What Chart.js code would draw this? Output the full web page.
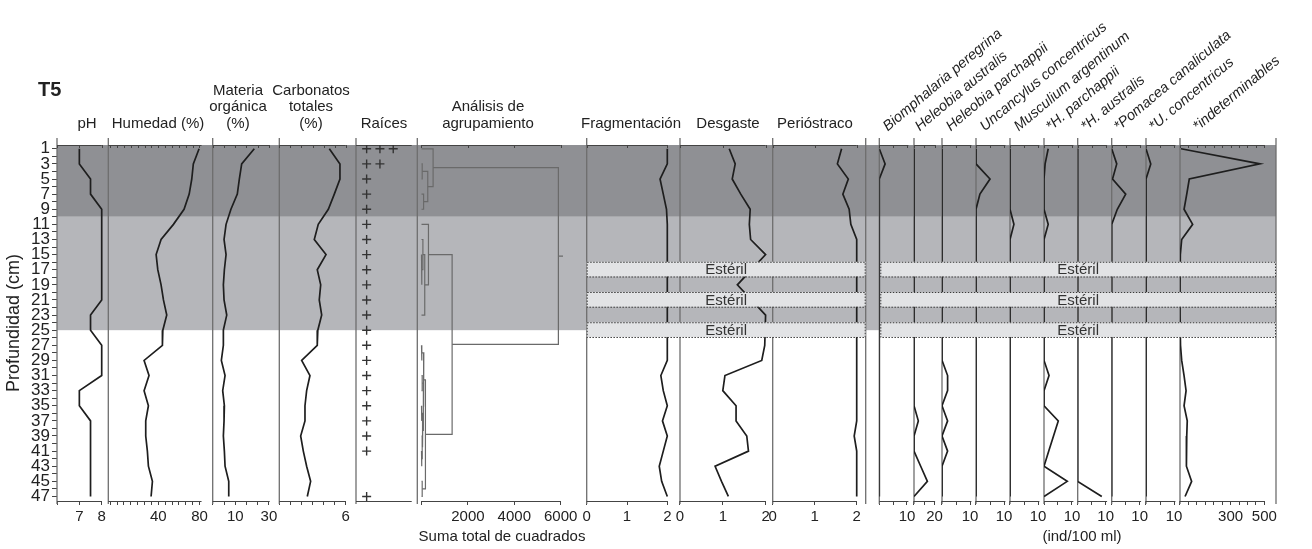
<!DOCTYPE html>
<html>
<head>
<meta charset="utf-8">
<script src="https://cdn.jsdelivr.net/npm/chart.js@4.4.1/dist/chart.umd.min.js"></script>
<style>
  body { margin: 0; background: #fff; font-family: "Liberation Sans", Arial, sans-serif; color: #222; }
  #wrap { position: relative; width: 1312px; height: 549px; overflow: hidden; }
  #chart { position: absolute; left: 0; top: 0; }
  .hd { position: absolute; font-size: 15px; line-height: 16.7px; text-align: center; transform: translateX(-50%); white-space: nowrap; }
  .sp { position: absolute; font-size: 14.5px; line-height: 14px; font-style: italic; transform-origin: 0 100%; transform: rotate(-40deg); white-space: nowrap; }
  #t5 { position: absolute; left: 38px; top: 77px; font-size: 20px; line-height: 24px; font-weight: bold; }
</style>
</head>
<body>
<div id="wrap">
  <canvas id="chart" width="1312" height="549"></canvas>
  <div id="t5">T5</div>
</div>
<script>
// sample depths (cm)
const depths = [1, 3, 5, 7, 9, 11, 13, 15, 17, 19, 21, 23, 25, 27, 29, 31, 33, 35, 37, 39, 41, 43, 45, 47];
const sterileDepths = [17, 21, 25];
const zoneLimits = [10, 25];

// sediment
const ph = [7.0, 7.0, 7.5, 7.5, 8.0, 8.0, 8.0, 8.0, 8.0, 8.0, 8.0, 7.5, 7.5, 8.0, 8.0, 8.0, 7.0, 7.0, 7.5, 7.5, 7.5, 7.5, 7.5, 7.5];
const humedad = [79.6, 74, 72.5, 70, 65, 54.7, 42.7, 37.9, 39.5, 42.7, 45, 48.2, 44.4, 44, 26.2, 31, 26.2, 30.4, 27.8, 27.8, 29.4, 30.4, 34.3, 33];
const materiaOrg = [21.3, 13.8, 12.4, 11.2, 7.4, 4.5, 3.3, 4.5, 3.5, 2.9, 3.3, 4.9, 2.9, 2.9, 1.7, 3.9, 2.5, 3.5, 3.3, 2.9, 3.5, 3.9, 6.1, 6.1];
const carbonatos = [4.52, 5.48, 5.48, 4.97, 4.43, 3.52, 3.16, 4.22, 3.43, 3.74, 3.61, 3.83, 3.48, 3.43, 2.02, 2.77, 2.47, 2.32, 2.32, 1.93, 2.17, 2.47, 2.83, 2.53];
const raices = [3, 2, 1, 1, 1, 1, 1, 1, 1, 1, 1, 1, 1, 1, 1, 1, 1, 1, 1, 1, 1, 0, 0, 1];

// taphonomy (null = estéril)
const fragmentacion = [2.0, 2.0, 1.82, 1.9, 1.98, 2.0, 2.0, 2.0, null, 2.0, null, 2.0, null, 2.0, 2.0, 1.84, 1.9, 2.0, 1.88, 2.0, 1.9, 1.8, 1.86, 2.0];
const desgaste = [1.15, 1.29, 1.22, 1.42, 1.64, 1.62, 1.65, 2.0, null, 1.34, null, 2.0, null, 1.98, 1.91, 1.05, 1.0, 1.31, 1.31, 1.56, 1.6, 0.82, 0.97, 1.13];
const periostraco = [1.64, 1.54, 1.8, 1.67, 1.82, 1.86, 2.0, 2.0, null, 2.0, null, 2.0, null, 2.0, 2.0, 2.0, 2.0, 2.0, 2.0, 1.94, 2.0, 2.0, 2.0, 2.0];

// species (ind/100 ml)
const biomphalaria = [0, 2.1, 0, 0, 0, 0, 0, 0, null, 0, null, 0, null, 0, 0, 0, 0, 0, 0, 0, 0, 0, 0, 0];
const heleobiaAus = [0, 0, 0, 0, 0, 0, 0, 0, null, 0, null, 0, null, 0, 0, 0, 0, 0, 4.2, 0, 0, 6.5, 13, 0];
const heleobiaPar = [0, 0, 0, 0, 0, 0, 0, 0, null, 0, null, 0, null, 0, 0, 2, 2, 0, 2, 0, 2, 0, 0, 0];
const uncancylus = [0, 0, 5, 1.4, 0, 0, 0, 0, null, 0, null, 0, null, 0, 0, 0, 0, 0, 0, 0, 0, 0, 0, 0];
const musculium = [0, 0, 0, 0, 0, 1.4, 0, 0, null, 0, null, 0, null, 0, 0, 0, 0, 0, 0, 0, 0, 0, 0, 0];
const hParchFrag = [1.5, 0.4, 0, 0, 0, 1.5, 0, 0, null, 0, null, 0, null, 0, 0, 1.8, 0, 0, 5.1, 3.4, 1.7, 0, 8.3, 0];
const hAustFrag = [0, 0, 0, 0, 0, 0, 0, 0, null, 0, null, 0, null, 0, 0, 0, 0, 0, 0, 0, 0, 0, 0, 8.6];
const pomacea = [0, 1.8, 0.3, 5, 2, 0, 0, 0, null, 0, null, 0, null, 0, 0, 0, 0, 0, 0, 0, 0, 0, 0, 0];
const uConcFrag = [0, 1.7, 0, 0, 0, 0, 0, 0, null, 0, null, 0, null, 0, 0, 0, 0, 0, 0, 0, 0, 0, 0, 0];
const indeterminables = [6, 474, 55, 40, 24, 75, 10, 2, null, 0, null, 0, null, 3, 10, 24, 36, 24, 43, 40, 40, 36, 69, 30];

// CONISS merges: [left, right, sum of squares]; numbers are depths, 'mN' an earlier merge
const dendroMerges = [
  [3, 5, 30], [7, 9, 90], ['m0', 'm1', 270], [1, 'm2', 500],
  [15, 19, 20], [13, 'm4', 60], ['m5', 23, 140], [11, 'm6', 300],
  [27, 29, 20], [31, 33, 30], [35, 37, 15], [41, 43, 15], [39, 'm11', 30],
  ['m10', 'm12', 60], ['m9', 'm13', 80], ['m8', 'm14', 100], [45, 47, 30],
  ['m15', 'm16', 170], ['m7', 'm17', 1320], ['m3', 'm18', 5900]
];
const rootStub = 200;

// panel layout: slot width (px) and scale range
const third = k => 10 + k * 20 / 3;
const panels = [
  { id: 'ph', w: 51.3, min: 6, max: 8.295, ticks: [6, 7, 8], labels: [7, 8], axis: [6, 8] },
  { id: 'hum', w: 104.4, min: -8.54, max: 92.82, ticks: [-1,0,1,2,3,4,5,6,7,8,9,10,11,12].map(k => k * 20 / 3), labels: [40, 80], axis: [-8.54, 82] },
  { id: 'mo', w: 66.6, min: -3.45, max: 36.19, ticks: [-2,-1,0,1,2,3].map(third), labels: [10, 30], axis: [-3.45, 30.5] },
  { id: 'carb', w: 76.7, min: 0, max: 6.93, ticks: [0,1,2,3,4,5,6], labels: [6], axis: [0, 6] },
  { id: 'rai', w: 61.3, min: 0.2, max: 4.81, ticks: [], labels: [], axis: [0.2, 4.39] },
  { id: 'den', w: 169.4, min: -181, max: 7121, ticks: [0, 2000, 4000, 6000], labels: [2000, 4000, 6000], axis: [0, 6000], title: 'Suma total de cuadrados' },
  { id: 'fra', w: 93.3, min: 0, max: 2.315, ticks: [0, 1, 2], labels: [0, 1, 2], axis: [0, 2] },
  { id: 'des', w: 92.7, min: 0, max: 2.166, ticks: [0, 1, 2], labels: [0, 1, 2], axis: [0, 2] },
  { id: 'per', w: 93, min: 0, max: 2.214, ticks: [0, 1, 2], labels: [0, 1, 2], axis: [0, 2] },
  { id: 'gap', w: 13.6, min: 0, max: 1, ticks: [], labels: [], axis: null },
  { id: 'bio', w: 34.7, min: 0, max: 12.53, ticks: [0, 5, 10], labels: [10], axis: [0, 10.5] },
  { id: 'hau', w: 28, min: 0, max: 27.18, ticks: [0, 10, 20], labels: [20], axis: [0, 20.5] },
  { id: 'hpa', w: 34, min: 0, max: 12.14, ticks: [0, 5, 10], labels: [10], axis: [0, 10.5] },
  { id: 'unc', w: 34, min: 0, max: 12.14, ticks: [0, 5, 10], labels: [10], axis: [0, 10.5] },
  { id: 'mus', w: 34, min: 0, max: 12.14, ticks: [0, 5, 10], labels: [10], axis: [0, 10.5] },
  { id: 'shp', w: 33.7, min: 0, max: 12.04, ticks: [0, 5, 10], labels: [10], axis: [0, 10.5] },
  { id: 'sha', w: 34, min: 0, max: 12.14, ticks: [0, 5, 10], labels: [10], axis: [0, 10.5] },
  { id: 'pom', w: 34.3, min: 0, max: 12.25, ticks: [0, 5, 10], labels: [10], axis: [0, 10.5] },
  { id: 'suc', w: 34, min: 0, max: 12.14, ticks: [0, 5, 10], labels: [10], axis: [0, 10.5] },
  { id: 'ind', w: 96, min: 0, max: 569, ticks: [0,50,100,150,200,250,300,350,400,450,500], labels: [300, 500], axis: [0, 500] }
];

const headers = [
  { x: 87, lines: ['pH'] },
  { x: 158, lines: ['Humedad (%)'] },
  { x: 238, lines: ['Materia', 'orgánica', '(%)'] },
  { x: 311, lines: ['Carbonatos', 'totales', '(%)'] },
  { x: 384, lines: ['Raíces'] },
  { x: 488, lines: ['Análisis de', 'agrupamiento'] },
  { x: 631, lines: ['Fragmentación'] },
  { x: 728, lines: ['Desgaste'] },
  { x: 815, lines: ['Perióstraco'] }
];
const speciesNames = [
  ['Biomphalaria peregrina', 889], ['Heleobia australis', 921], ['Heleobia parchappii', 952],
  ['Uncancylus concentricus', 986], ['Musculium argentinum', 1020], ['*H. parchappii', 1052],
  ['*H. australis', 1087], ['*Pomacea canaliculata', 1120], ['*U. concentricus', 1155],
  ['*indeterminables', 1199]
];

const wrap = document.getElementById('wrap');
headers.forEach(h => {
  const d = document.createElement('div');
  d.className = 'hd';
  d.style.left = h.x + 'px';
  d.style.top = (123.3 - 8.35 - (h.lines.length - 1) * 16.7) + 'px';
  d.innerHTML = h.lines.join('<br>');
  wrap.appendChild(d);
});
speciesNames.forEach(([name, x]) => {
  const d = document.createElement('div');
  d.className = 'sp';
  d.style.left = x + 'px';
  d.style.top = (133 - 14) + 'px';
  d.textContent = name;
  wrap.appendChild(d);
});
const unit = document.createElement('div');
unit.className = 'hd';
unit.style.left = '1082px';
unit.style.top = '528px';
unit.textContent = '(ind/100 ml)';
wrap.appendChild(unit);

// datasets
const lineStyle = { showLine: true, borderColor: '#1e1e1e', borderWidth: 1.7, pointRadius: 0, tension: 0 };
function series(vals, axis) {
  const data = depths.map((d, i) => vals[i] === null ? null : { x: vals[i], y: d }).filter(Boolean);
  return Object.assign({ data, xAxisID: axis }, lineStyle);
}
const datasets = [
  series(ph, 'ph'), series(humedad, 'hum'), series(materiaOrg, 'mo'), series(carbonatos, 'carb'),
  series(fragmentacion, 'fra'), series(desgaste, 'des'), series(periostraco, 'per'),
  series(biomphalaria, 'bio'), series(heleobiaAus, 'hau'), series(heleobiaPar, 'hpa'),
  series(uncancylus, 'unc'), series(musculium, 'mus'), series(hParchFrag, 'shp'),
  series(hAustFrag, 'sha'), series(pomacea, 'pom'), series(uConcFrag, 'suc'),
  series(indeterminables, 'ind')
];

// roots as crosses
const rootPts = [];
depths.forEach((d, i) => { for (let k = 1; k <= raices[i]; k++) rootPts.push({ x: k, y: d }); });
datasets.push({ data: rootPts, xAxisID: 'rai', showLine: false, pointStyle: 'cross', pointRadius: 4.5,
  borderColor: '#333', borderWidth: 1.4 });

// dendrogram links
const nodes = [];
const nodeOf = ref => typeof ref === 'number' ? { h: 0, y: ref } : nodes[+ref.slice(1)];
dendroMerges.forEach(([l, r, h]) => {
  const a = nodeOf(l), b = nodeOf(r);
  nodes.push({ h, y: (a.y + b.y) / 2 });
  datasets.push({ data: [{ x: a.h, y: a.y }, { x: h, y: a.y }, { x: h, y: b.y }, { x: b.h, y: b.y }],
    xAxisID: 'den', showLine: true, borderColor: '#6a6a6a', borderWidth: 1.2, pointRadius: 0 });
});
const root = nodes[nodes.length - 1];
datasets.push({ data: [{ x: root.h, y: root.y }, { x: root.h + rootStub, y: root.y }],
  xAxisID: 'den', showLine: true, borderColor: '#6a6a6a', borderWidth: 1.2, pointRadius: 0 });

// scales
const scales = {
  y: {
    type: 'linear', position: 'left', reverse: true, min: 0.5, max: 47.6,
    afterFit: s => { s.width = 57; },
    afterBuildTicks: s => { s.ticks = depths.concat(depths.map(d => d + 1).filter(d => d < 47)).sort((a, b) => a - b).map(v => ({ value: v })); },
    ticks: { autoSkip: false, color: '#222', font: { size: 17, family: 'Liberation Sans' }, padding: 2,
      callback: v => (v % 2 === 1 ? String(v) : '') },
    grid: { drawOnChartArea: false, tickLength: 5, color: '#444' },
    border: { display: false },
    title: { display: true, text: 'Profundidad (cm)', color: '#222', font: { size: 18, family: 'Liberation Sans' }, padding: { top: 3, bottom: 0 } }
  }
};
panels.forEach(p => {
  scales[p.id] = {
    type: 'linear', position: 'bottom', stack: 'panels', stackWeight: p.w, min: p.min, max: p.max,
    afterFit: s => { s.height = 48; },
    afterBuildTicks: s => { s.ticks = p.ticks.map(v => ({ value: v })); },
    ticks: { autoSkip: false, maxRotation: 0, minRotation: 0, color: '#222', padding: 3,
      font: { size: 15, family: 'Liberation Sans' },
      callback: v => (p.labels.some(l => Math.abs(l - v) < 1e-6) ? String(v) : '') },
    grid: { drawOnChartArea: false, drawTicks: p.ticks.length > 0, tickLength: 4, color: '#444' },
    border: { display: false },
    title: { display: !!p.title, text: p.title || '', color: '#222', font: { size: 15, family: 'Liberation Sans' }, padding: { top: 0, bottom: 3 } }
  };
});

const zoneColors = ['#8f9094', '#b5b6ba'];

const panelPlugin = {
  id: 'panelFrames',
  beforeDraw(chart) {
    const { ctx, chartArea: a, scales: s } = chart;
    const limits = [s.y.min].concat(zoneLimits);
    ctx.save();
    for (let i = 0; i < zoneLimits.length; i++) {
      const y0 = s.y.getPixelForValue(limits[i]);
      const y1 = s.y.getPixelForValue(limits[i + 1]);
      ctx.fillStyle = zoneColors[i];
      ctx.fillRect(a.left, y0, a.right - a.left, y1 - y0);
    }
    ctx.restore();
  },
  beforeDatasetsDraw(chart) {
    const { ctx, chartArea: a, scales: s } = chart;
    ctx.save();
    // panel separators
    ctx.strokeStyle = '#6e6e6e';
    ctx.lineWidth = 1.3;
    const xs = panels.map(p => s[p.id].left).concat([a.right]);
    xs.forEach(x => {
      ctx.beginPath();
      ctx.moveTo(x, a.top - 7);
      ctx.lineTo(x, a.bottom + 3);
      ctx.stroke();
    });
    // top and bottom axis lines
    ctx.strokeStyle = '#444';
    ctx.lineWidth = 1;
    panels.forEach(p => {
      if (!p.axis) return;
      const sc = s[p.id];
      const x0 = sc.getPixelForValue(p.axis[0]), x1 = sc.getPixelForValue(p.axis[1]);
      ctx.beginPath();
      ctx.moveTo(x0, a.top + 0.5); ctx.lineTo(x1, a.top + 0.5);
      ctx.moveTo(x0, a.bottom + 0.5); ctx.lineTo(x1, a.bottom + 0.5);
      p.ticks.forEach(v => {
        const x = Math.round(sc.getPixelForValue(v)) + 0.5;
        ctx.moveTo(x, a.top); ctx.lineTo(x, a.top + 3);
      });
      ctx.stroke();
    });
    ctx.restore();
  },
  afterDatasetsDraw(chart) {
    const { ctx, chartArea: a, scales: s } = chart;
    const groups = [[s.fra.left, s.per.right], [s.bio.left + 1, a.right]];
    ctx.save();
    sterileDepths.forEach(d => {
      const y0 = s.y.getPixelForValue(d - 1.05), y1 = s.y.getPixelForValue(d + 0.9);
      groups.forEach(([x0, x1]) => {
        ctx.fillStyle = '#e2e3e5';
        ctx.fillRect(x0, y0, x1 - x0, y1 - y0);
        ctx.setLineDash([1.5, 1.5]);
        ctx.strokeStyle = '#3a3a3a';
        ctx.lineWidth = 1;
        ctx.strokeRect(x0 + 0.5, y0 + 0.5, x1 - x0 - 1, y1 - y0);
        ctx.setLineDash([]);
        ctx.fillStyle = '#333';
        ctx.font = '15px "Liberation Sans", Arial, sans-serif';
        ctx.textAlign = 'center';
        ctx.textBaseline = 'middle';
        ctx.fillText('Estéril', (x0 + x1) / 2, (y0 + y1) / 2 + 1);
      });
    });
    ctx.restore();
  }
};

new Chart(document.getElementById('chart'), {
  type: 'scatter',
  data: { datasets },
  options: {
    responsive: false,
    animation: false,
    events: [],
    devicePixelRatio: 1,
    layout: { padding: { top: 145, right: 36, bottom: 0, left: 0 } },
    plugins: { legend: { display: false }, tooltip: { enabled: false } },
    scales
  },
  plugins: [panelPlugin]
});
</script>
</body>
</html>
